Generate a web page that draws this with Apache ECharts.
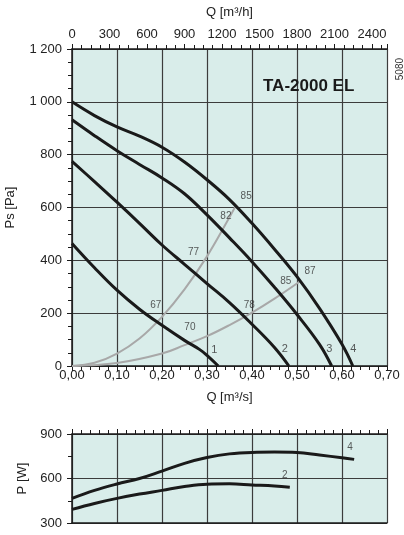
<!DOCTYPE html>
<html><head><meta charset="utf-8">
<script src="https://cdn.jsdelivr.net/npm/echarts@6/dist/echarts.min.js"></script>
<style>html,body{margin:0;padding:0;background:#fff}#c{width:404px;height:535px}</style>
</head><body><div id="c"></div>
<script>
// Fan curves: [Q m3/s, Ps Pa]
const curve1 = [[0,464],[0.05,372],[0.1,287],[0.15,215],[0.2,154],[0.25,97],[0.284,62],[0.3,40],[0.325,0]];
const curve2 = [[0,775],[0.05,698],[0.1,620],[0.15,540],[0.2,458],[0.25,385],[0.3,312],[0.35,240],[0.4,158],[0.45,70],[0.482,0]];
const curve3 = [[0,932],[0.05,872],[0.1,815],[0.15,763],[0.2,712],[0.25,652],[0.3,572],[0.35,485],[0.4,395],[0.45,298],[0.5,195],[0.55,82],[0.577,0]];
const curve4 = [[0,1000],[0.05,948],[0.1,905],[0.15,870],[0.2,828],[0.25,772],[0.3,705],[0.35,630],[0.4,540],[0.45,442],[0.5,338],[0.55,218],[0.6,82],[0.624,0]];
// System (efficiency) curves
const sysA = [[0,0],[0.05,12],[0.1,47],[0.15,104],[0.2,186],[0.25,290],[0.3,415],[0.35,563],[0.364,607]];
const sysB = [[0,0],[0.1,11],[0.2,47],[0.25,79],[0.3,113],[0.35,155],[0.4,202],[0.45,255],[0.507,321]];
// Efficiency labels [Q, Ps, text]
const effLabels = [[0.186,230,'67'],[0.262,148,'70'],[0.27,429,'77'],[0.394,230,'78'],[0.342,565,'82'],[0.387,641,'85'],[0.475,321,'85'],[0.529,359,'87']];
const curveLabels = [[0.316,60,'1'],[0.473,63,'2'],[0.572,63,'3'],[0.625,63,'4']];
// Power curves [Q, P W]
const power4 = [[0,466],[0.05,520],[0.1,563],[0.15,600],[0.2,650],[0.25,702],[0.3,741],[0.35,766],[0.4,776],[0.45,778],[0.5,775],[0.55,758],[0.6,740],[0.627,729]];
const power2 = [[0,392],[0.05,432],[0.1,466],[0.15,495],[0.2,520],[0.25,546],[0.3,562],[0.35,564],[0.4,557],[0.45,550],[0.484,541]];
const powerLabels = [[0.618,814,'4'],[0.473,619,'2']];

const FONT = 'Liberation Sans, Arial, sans-serif';
const TXT = '#222';
const GRIDC = '#3c3c3c';
const BG = '#d9edea';

const chart = echarts.init(document.getElementById('c'), null, {renderer:'canvas'});
function fmtQ(v){ return v.toFixed(2).replace('.', ','); }
function fmtPa(v){ return v >= 1000 ? (Math.floor(v/1000) + ' ' + String(v%1000).padStart(3,'0')) : String(v); }

const blackLine = (data, xi, yi) => ({type:'line', data, xAxisIndex:xi, yAxisIndex:yi, smooth:0.4, symbol:'none',
  lineStyle:{color:'#1a1a1a', width:3}, z:5});
const grayLine = (data) => ({type:'line', data, xAxisIndex:0, yAxisIndex:0, smooth:0.4, symbol:'none',
  lineStyle:{color:'#a8a8a8', width:2}, z:4});
const labelSeries = (arr, xi, yi, size) => ({type:'scatter', xAxisIndex:xi, yAxisIndex:yi, symbolSize:0,
  data: arr.map(a => ({value:[a[0],a[1]], name:a[2]})),
  label:{show:true, position:'inside', formatter: p => p.name, color:'#333', fontSize:size, fontFamily:FONT}, z:6, silent:true});

chart.setOption({
  animation:false,
  backgroundColor:'#fff',
  title:{text:'TA-2000 EL', left:258, top:73, textStyle:{fontFamily:FONT, fontWeight:'bold', fontSize:17, color:'#1a1a1a'}},
  graphic:[{type:'text', left:395, top:58, rotation:Math.PI/2, style:{text:'5080', font:'10px ' + FONT, fill:'#333'}}],
  grid:[
    {left:72, top:49, width:315, height:317, show:true, backgroundColor:BG, borderWidth:0, containLabel:false, outerBoundsMode:'none'},
    {left:72, top:434, width:315, height:89, show:true, backgroundColor:BG, borderWidth:0, containLabel:false, outerBoundsMode:'none'}
  ],
  xAxis:[
    {gridIndex:0, type:'value', min:0, max:0.7, interval:0.1, position:'bottom',
     name:'Q [m³/s]', nameLocation:'middle', nameGap:25, nameTextStyle:{fontFamily:FONT, fontSize:13, color:TXT},
     axisLine:{lineStyle:{color:'#1a1a1a', width:1.5}},
     axisTick:{show:true, length:5, lineStyle:{color:'#1a1a1a'}},
     minorTick:{show:true, splitNumber:5, length:4, lineStyle:{color:'#1a1a1a'}},
     axisLabel:{formatter:fmtQ, fontFamily:FONT, fontSize:13, color:TXT, margin:3},
     splitLine:{show:true, lineStyle:{color:GRIDC, width:1.2}}},
    {gridIndex:0, type:'value', min:0, max:2520, interval:300, position:'top',
     name:'Q [m³/h]', nameLocation:'middle', nameGap:30, nameTextStyle:{fontFamily:FONT, fontSize:13, color:TXT},
     axisLine:{lineStyle:{color:'#1a1a1a', width:1.5}},
     axisTick:{show:true, length:5, lineStyle:{color:'#1a1a1a'}},
     minorTick:{show:true, splitNumber:4, length:4, lineStyle:{color:'#1a1a1a'}},
     axisLabel:{showMaxLabel:false, formatter: v => (v % 300 === 0 ? String(v) : ''), fontFamily:FONT, fontSize:13, color:TXT, margin:8},
     splitLine:{show:false}},
    {gridIndex:1, type:'value', min:0, max:0.7, interval:0.1, position:'top',
     axisLine:{lineStyle:{color:'#1a1a1a', width:1.5}},
     axisTick:{show:true, length:5, lineStyle:{color:'#1a1a1a'}},
     minorTick:{show:true, splitNumber:5, length:4, lineStyle:{color:'#1a1a1a'}},
     axisLabel:{show:false},
     splitLine:{show:true, lineStyle:{color:GRIDC, width:1.2}}},
    {gridIndex:1, type:'value', min:0, max:0.7, position:'bottom',
     axisLine:{lineStyle:{color:'#1a1a1a', width:1.5}}, axisTick:{show:false}, axisLabel:{show:false}, splitLine:{show:false}}
  ],
  yAxis:[
    {gridIndex:0, type:'value', min:0, max:1200, interval:200,
     name:'Ps [Pa]', nameLocation:'middle', nameGap:55, nameTextStyle:{fontFamily:FONT, fontSize:13, color:TXT},
     axisLine:{show:true, lineStyle:{color:'#1a1a1a', width:1.5}},
     axisTick:{show:true, length:5, lineStyle:{color:'#1a1a1a'}},
     minorTick:{show:true, splitNumber:4, length:4, lineStyle:{color:'#1a1a1a'}},
     axisLabel:{formatter:fmtPa, fontFamily:FONT, fontSize:13, color:TXT, margin:10},
     splitLine:{show:true, lineStyle:{color:GRIDC, width:1.2}}},
    {gridIndex:1, type:'value', min:300, max:900, interval:300,
     name:'P [W]', nameLocation:'middle', nameGap:42, nameTextStyle:{fontFamily:FONT, fontSize:13, color:TXT},
     axisLine:{show:true, lineStyle:{color:'#1a1a1a', width:1.5}},
     axisTick:{show:true, length:5, lineStyle:{color:'#1a1a1a'}},
     minorTick:{show:true, splitNumber:2, length:4, lineStyle:{color:'#1a1a1a'}},
     axisLabel:{fontFamily:FONT, fontSize:13, color:TXT, margin:10},
     splitLine:{show:true, lineStyle:{color:GRIDC, width:1.2}}}
  ],
  series:[
    grayLine(sysA), grayLine(sysB),
    blackLine(curve1,0,0), blackLine(curve2,0,0), blackLine(curve3,0,0), blackLine(curve4,0,0),
    labelSeries(effLabels,0,0,10), labelSeries(curveLabels,0,0,11),
    blackLine(power4,2,1), blackLine(power2,2,1),
    labelSeries(powerLabels,2,1,10)
  ]
});
</script></body></html>
